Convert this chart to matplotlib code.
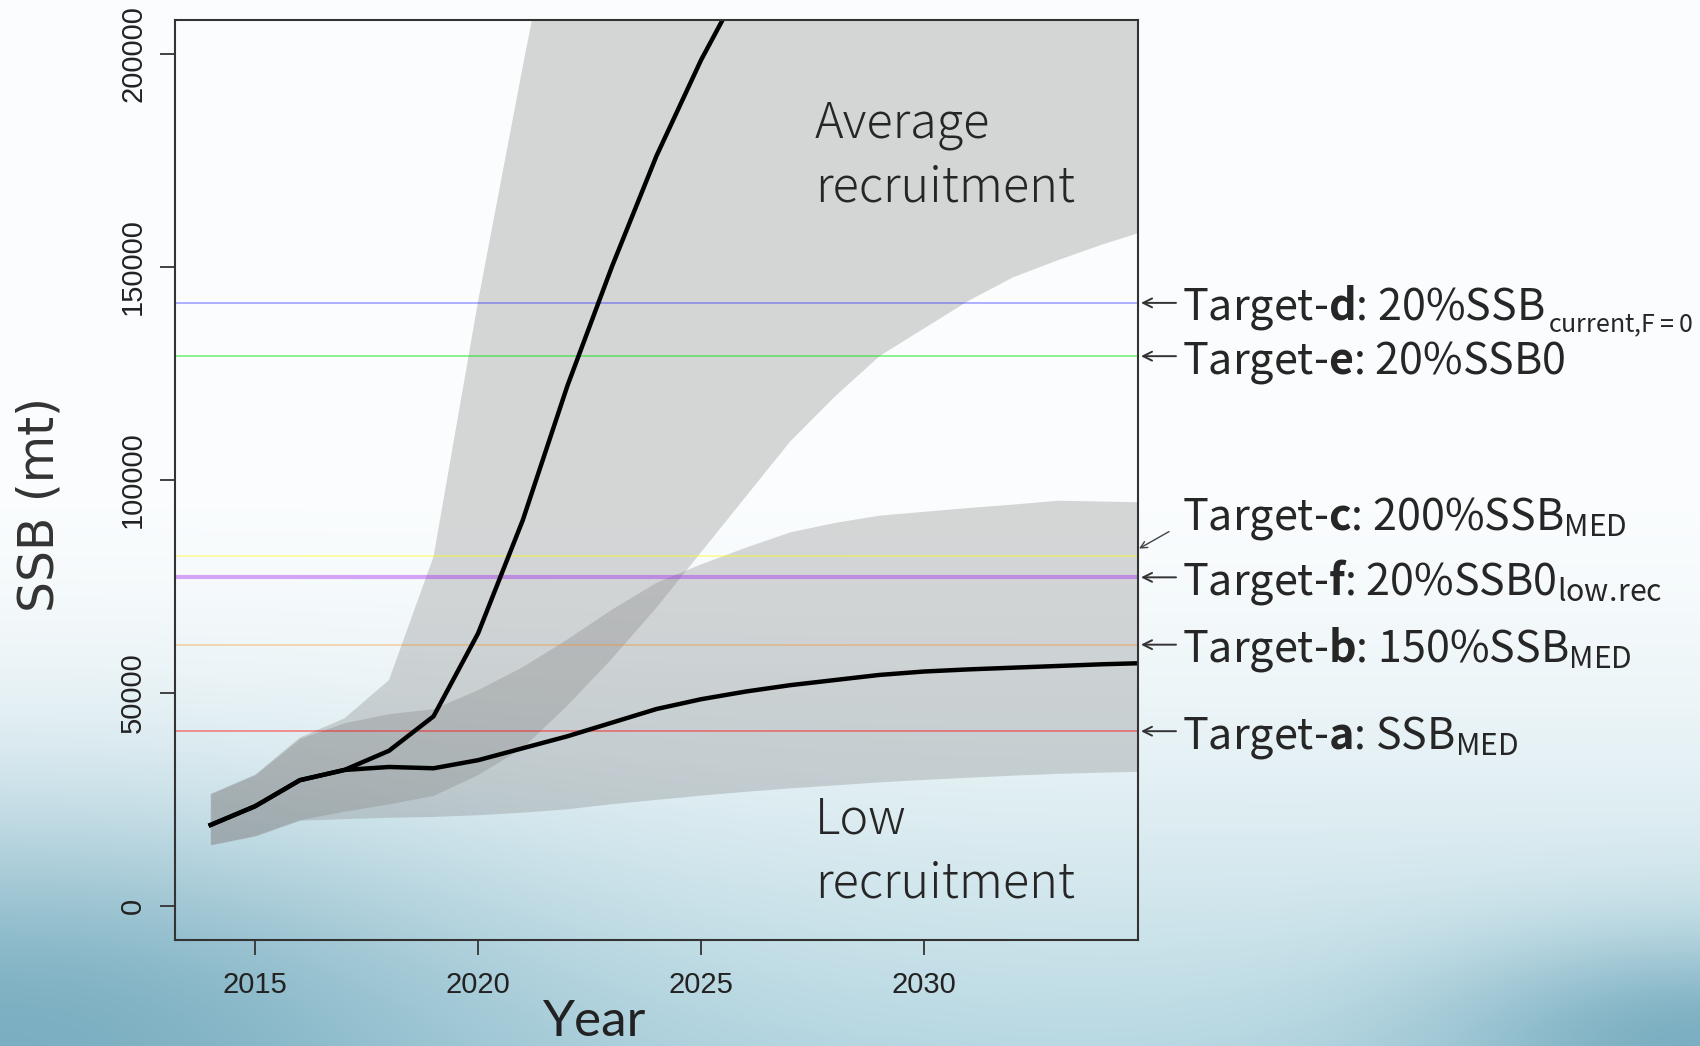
import numpy as np
import matplotlib
matplotlib.use("Agg")
import matplotlib.pyplot as plt
from matplotlib.colors import to_rgb
from matplotlib.transforms import blended_transform_factory, offset_copy

plt.rcParams["mathtext.fontset"] = "custom"
plt.rcParams["mathtext.rm"] = "Noto Sans CJK JP"
plt.rcParams["mathtext.bf"] = "Noto Sans CJK JP:bold"

# projected SSB (mt)
years = np.arange(2014, 2036)
avg_med = [19000, 23400, 29500, 31900, 36400, 44500, 64000, 90500, 122000, 150000, 176000,
           198500, 218000, 236000, 252000, 266000, 278000, 288000, 296000, 303000, 309000, 314000]
avg_lo = [14300, 16400, 20100, 22100, 23800, 25800, 30700, 37000, 47000, 58000, 70000,
          83000, 96000, 109000, 119500, 129000, 135500, 142000, 147500, 151500, 155200, 158500]
avg_hi = [26300, 30800, 39500, 44000, 53000, 82000, 142000, 197000, 250000, 300000, 345000,
          385000, 420000, 450000, 475000, 495000, 512000, 526000, 538000, 548000, 556000, 563000]
low_med = [19000, 23400, 29500, 31900, 32600, 32300, 34200, 37000, 39800, 43000, 46200,
           48500, 50300, 51800, 53000, 54200, 55000, 55500, 55900, 56300, 56700, 57000]
low_lo = [14300, 16400, 20100, 20500, 20800, 21000, 21400, 22000, 22800, 24000, 25000,
          26000, 26900, 27700, 28400, 29100, 29700, 30200, 30700, 31100, 31400, 31600]
low_hi = [26300, 30800, 39300, 43000, 45100, 46300, 50800, 56200, 62700, 69700, 76000,
          80300, 84200, 87800, 90000, 91700, 92600, 93500, 94300, 95200, 95000, 94800]

# management targets
target_keys = ["d", "e", "c", "f", "b", "a"]
target_vals = [141500, 129000, 82200, 77100, 61300, 41000]
target_desc = ["20%SSB", "20%SSB0", r"200%SSB$_{\rm MED}$",
               r"20%SSB0$_{\rm low.\!rec}$", r"150%SSB$_{\rm MED}$", r"SSB$_{\rm MED}$"]
small_sub = {"d": r"$\rm current{,}F=0$"}
target_cols = [(0, 0, 1, 0.3), (0, 0.9, 0, 0.45), (1, 1, 0, 0.35),
               (0.63, 0.13, 0.94, 0.4), (1, 0.55, 0, 0.3), (1, 0, 0, 0.4)]
target_lw = [1.4, 1.4, 1.4, 3.0, 1.4, 1.4]

fig = plt.figure(figsize=(17, 10.46), dpi=100)
renderer = fig.canvas.get_renderer()

# slide background
H, W = 1046, 1700
v = np.linspace(0, 1, H)[:, None, None]
u = np.linspace(0, 1, W)[None, :, None]
top = np.array(to_rgb("#fbfdfe"))
bot = np.array(to_rgb("#b9d9e3"))
dark = np.array(to_rgb("#74aabd"))
t = np.clip((v - 0.45) / 0.55, 0, 1) ** 1.6
bg = top * (1 - t) + bot * t
wl = 0.9 * np.exp(-((u / 0.3) ** 2 + ((1 - v) / 0.2) ** 2))
wr = 0.9 * np.exp(-(((1 - u) / 0.16) ** 2 + ((1 - v) / 0.1) ** 2))
w = np.clip(wl + wr, 0, 1)
bg = bg * (1 - w) + dark * w
bax = fig.add_axes([0, 0, 1, 1], zorder=-10)
bax.imshow(bg, aspect="auto", extent=[0, 1, 0, 1])
bax.axis("off")

ax = fig.add_axes([175 / 1700, 1 - 940 / 1046, 963 / 1700, 920.5 / 1046])
ax.patch.set_alpha(0)

ax.fill_between(years, avg_lo, avg_hi, color="#7f7f7f", alpha=0.3, lw=0)
ax.fill_between(years, low_lo, low_hi, color="#7f7f7f", alpha=0.3, lw=0)
for val, col, lw in zip(target_vals, target_cols, target_lw):
    ax.axhline(val, color=col, lw=lw)
ax.plot(years, avg_med, color="black", lw=3.2, solid_joinstyle="round")
ax.plot(years, low_med, color="black", lw=3.2, solid_joinstyle="round")

ax.set_xlim(2013.2, 2034.8)
ax.set_ylim(-8000, 208000)
ax.set_xticks([2015, 2020, 2025, 2030])
ax.set_yticks([0, 50000, 100000, 150000, 200000])
ax.set_yticklabels(["0", "50000", "100000", "150000", "200000"], rotation=90, va="center")
ax.tick_params(direction="out", length=11, width=1.3, color="#333333", labelsize=21,
               labelcolor="#222222")
ax.tick_params(axis="x", pad=11)
ax.tick_params(axis="y", pad=9)
for lab in ax.get_xticklabels() + ax.get_yticklabels():
    lab.set_family("Liberation Sans")
for sp in ax.spines.values():
    sp.set_color("#333333")
    sp.set_linewidth(1.5)

txt = dict(family="Noto Sans CJK JP", color="#262626")
ax.text(0.6646, 0.802, "Average\nrecruitment", transform=ax.transAxes, fontsize=35,
        va="baseline", linespacing=1.32, fontweight="light", **txt)
ax.text(0.6646, 0.046, "Low\nrecruitment", transform=ax.transAxes, fontsize=35,
        va="baseline", linespacing=1.32, fontweight="light", **txt)

tr = blended_transform_factory(ax.transAxes, ax.transData)
for key, val, desc in zip(target_keys, target_vals, target_desc):
    label = "Target-$\\mathbf{" + key + "}$: " + desc
    if key == "c":
        ax.annotate("", xy=(1.0, val), xycoords=offset_copy(tr, fig, x=1, y=7, units="dots"),
                    xytext=(1.0, val), textcoords=offset_copy(tr, fig, x=31, y=24, units="dots"),
                    arrowprops=dict(arrowstyle="->", lw=1.0, color="#444444",
                                    shrinkA=0, shrinkB=0, mutation_scale=12),
                    annotation_clip=False)
        ax.annotate(label, xy=(1.0, val), xycoords=tr, xytext=(44, 26), textcoords="offset pixels",
                    fontsize=31, va="baseline", ha="left", annotation_clip=False, **txt)
        continue
    ax.annotate("", xy=(1.0, val), xycoords=offset_copy(tr, fig, x=3, units="dots"),
                xytext=(1.0, val), textcoords=offset_copy(tr, fig, x=38, units="dots"),
                arrowprops=dict(arrowstyle="->", lw=1.4, color="#333333",
                                shrinkA=0, shrinkB=0, mutation_scale=16),
                annotation_clip=False)
    main = ax.annotate(label, xy=(1.0, val), xycoords=tr, xytext=(44, -17),
                       textcoords="offset pixels", fontsize=31, va="baseline", ha="left",
                       annotation_clip=False, **txt)
    if key in small_sub:
        # smaller subscript, squeezed in like the original slide
        wd = main.get_window_extent(renderer).width
        ax.annotate(small_sub[key], xy=(1.0, val), xycoords=tr, xytext=(44 + wd + 3, -29),
                    textcoords="offset pixels", fontsize=18, va="baseline", ha="left",
                    annotation_clip=False, **txt)

fig.text(595 / 1700, 10 / 1046, "Year", fontsize=37, family="Lato",
         color="#222222", ha="center", va="baseline")
fig.text(40 / 1700, 1 - 505 / 1046, "SSB (mt)", fontsize=35, family="DejaVu Sans",
         color="#333333", ha="center", va="center", rotation=90,
         rotation_mode="anchor")

fig.savefig("out.png", dpi=100)
